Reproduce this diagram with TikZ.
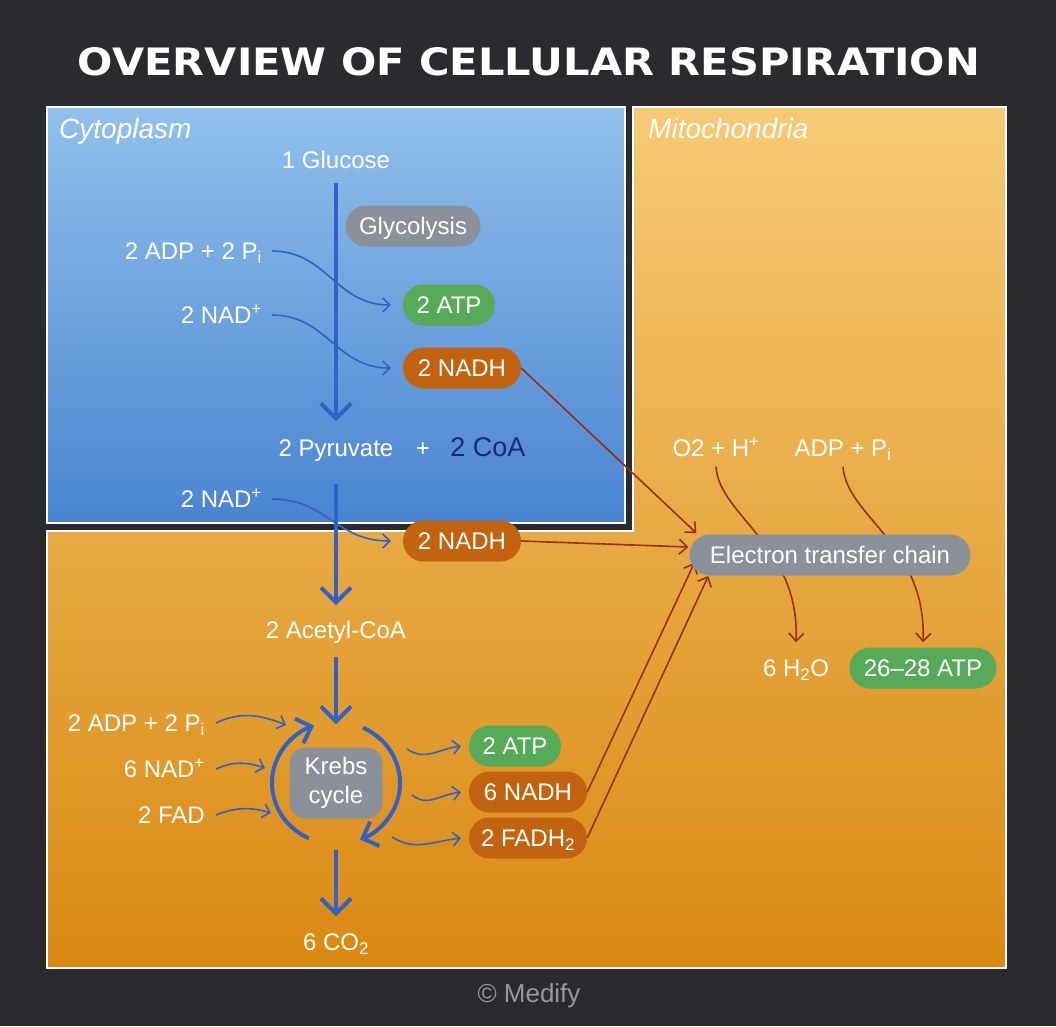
\documentclass[tikz,border=0pt]{standalone}
\usepackage{fontspec}
\setmainfont{Liberation Sans}
\newfontfamily\headFont{DejaVu Sans}
\usepackage{graphicx}
\usepackage{tikz}
\usetikzlibrary{
    positioning,
    arrows.meta,
    calc
}
\definecolor{darkBg}{RGB}{42, 43, 46}
\definecolor{cytoTop}{RGB}{145, 192, 235}
\definecolor{cytoBottom}{RGB}{74, 132, 209}
\definecolor{mitoTop}{RGB}{246, 202, 117}
\definecolor{mitoBottom}{RGB}{217, 137, 18}
\definecolor{pathBlue}{RGB}{50, 98, 198}
\definecolor{chainRed}{RGB}{155, 48, 12}
\definecolor{stepGray}{RGB}{139, 145, 155}
\definecolor{atpGreen}{RGB}{86, 170, 88}
\definecolor{nadhBrown}{RGB}{194, 99, 16}
\definecolor{coaNavy}{RGB}{25, 40, 120}
\definecolor{creditGray}{RGB}{150, 152, 156}

\pgfdeclarelayer{boxes}
\pgfdeclarelayer{links}
\pgfsetlayers{boxes,links,main}

\begin{document}
\begin{tikzpicture}[x=1pt, y=-1pt,
    txt/.style={text=white, inner sep=0pt, font=\fontsize{24}{28}\selectfont,
        text height=17pt, text depth=0pt},
    regionTxt/.style={text=white, inner sep=0pt, anchor=base west,
        font=\fontsize{28}{32}\selectfont\itshape},
    pill/.style={txt, rounded corners=20.5pt, minimum height=41pt},
    mainArrow/.style={pathBlue, line width=4pt,
        -{Straight Barb[length=15pt, width=30pt]}},
    sideArrow/.style={pathBlue, line width=1.6pt,
        -{Straight Barb[length=7pt, width=14pt]}},
    chainArrow/.style={chainRed, line width=1.6pt,
        -{Straight Barb[length=8pt, width=15pt]}}
]
    \useasboundingbox (0,0) rectangle (1056,1026);

    % Regions
    \begin{pgfonlayer}{boxes}
        \fill[darkBg] (0,0) rectangle (1056,1026);
        \shadedraw[top color=mitoTop, bottom color=mitoBottom, draw=white, line width=2pt]
            (47,531) -- (633,531) -- (633,107) -- (1006,107) -- (1006,968) -- (47,968) -- cycle;
        \shadedraw[top color=cytoTop, bottom color=cytoBottom, draw=white, line width=2pt]
            (47,107) rectangle (625,523);
    \end{pgfonlayer}

    \node[inner sep=0pt, text=white] (title) at (529,62)
        {\resizebox{902pt}{28pt}{\headFont\bfseries OVERVIEW OF CELLULAR RESPIRATION}};
    \node[regionTxt] (cyto) at (59,138) {Cytoplasm};
    \node[regionTxt] (mito) at (648,138) {Mitochondria};

    % Glycolysis
    \node[txt] (glucose) at (336,160) {1 Glucose};
    \node[pill, fill=stepGray, minimum width=135pt] (glyco) at (413,226) {Glycolysis};
    \node[txt, anchor=east] (adpA) at (262,251) {2 ADP + 2 P\textsubscript{i}};
    \node[txt, anchor=east] (nadA) at (262,315) {2 NAD\textsuperscript{+}};
    \node[pill, fill=atpGreen, minimum width=92pt] (atpA) at (449,305) {2 ATP};
    \node[pill, fill=nadhBrown, minimum width=118pt] (nadhA) at (462,368) {2 NADH};
    \node[txt] (pyruvate) at (336,448) {2 Pyruvate};
    \node[txt] (plus) at (423,448) {+};
    \node[txt, text=coaNavy, font=\fontsize{27}{30}\selectfont] (coa) at (488,448) {2 CoA};

    % Pyruvate oxidation
    \node[txt, anchor=east] (nadB) at (262,499) {2 NAD\textsuperscript{+}};
    \node[pill, fill=nadhBrown, minimum width=118pt] (nadhB) at (462,541) {2 NADH};
    \node[txt] (acetyl) at (336,630) {2 Acetyl-CoA};

    % Krebs cycle
    \node[text=white, inner sep=0pt, fill=stepGray, rounded corners=16pt, minimum width=93pt,
        minimum height=71pt, align=center, font=\fontsize{24}{29}\selectfont] (krebs) at (336,783) {Krebs\\cycle};
    \node[txt, anchor=east] (adpB) at (205,723) {2 ADP + 2 P\textsubscript{i}};
    \node[txt, anchor=east] (nadC) at (205,769) {6 NAD\textsuperscript{+}};
    \node[txt, anchor=east] (fad) at (205,815) {2 FAD};
    \node[pill, fill=atpGreen, minimum width=92pt] (atpB) at (515,746) {2 ATP};
    \node[pill, fill=nadhBrown, minimum width=118pt] (nadhC) at (528,792) {6 NADH};
    \node[pill, fill=nadhBrown, minimum width=118pt] (fadh) at (528,838) {2 FADH\textsubscript{2}};
    \node[txt] (co2) at (336,942) {6 CO\textsubscript{2}};
    \coordinate (inA) at (286,725);
    \coordinate (inB) at (265,768);
    \coordinate (inC) at (271,813);
    \coordinate (outA) at (407,749);
    \coordinate (outB) at (412,795);
    \coordinate (outC) at (392,837);

    % Electron transfer chain
    \node[txt] (oxygen) at (716,448) {O2 + H\textsuperscript{+}};
    \node[txt] (adpC) at (843,448) {ADP + P\textsubscript{i}};
    \node[pill, fill=stepGray, minimum width=281pt] (etc) at (830,555) {Electron transfer chain};
    \node[txt] (water) at (796,668) {6 H\textsubscript{2}O};
    \node[pill, fill=atpGreen, minimum width=147pt] (atpC) at (923,668) {26--28 ATP};

    \node[inner sep=0pt, text=creditGray, font=\fontsize{26}{30}\selectfont] (credit) at (529,996) {© Medify};

    % Main pathway
    \draw[mainArrow, shorten <=14pt, shorten >=18pt] (glucose.south) -- (pyruvate.north);
    \draw[mainArrow, shorten <=27pt, shorten >=16pt] (pyruvate.south) -- (acetyl.north);
    \draw[mainArrow, shorten <=18pt, shorten >=23pt] (acetyl.south) -- (krebs.north);
    \draw[mainArrow, shorten <=31pt, shorten >=17pt] (krebs.south) -- (co2.north);
    \draw[pathBlue, line width=4pt, -{Straight Barb[length=13pt, width=26pt]}]
        ($(krebs.center)+(115:64 and 61)$) arc[start angle=115, end angle=250, x radius=64, y radius=61];
    \draw[pathBlue, line width=4pt, -{Straight Barb[length=13pt, width=26pt]}]
        ($(krebs.center)+(-65:64 and 61)$) arc[start angle=-65, end angle=68, x radius=64, y radius=61];

    % Side inputs and outputs
    \draw[sideArrow] ([xshift=10pt]adpA.east) .. controls +(55,0) and +(-55,0) .. ([xshift=-12pt]atpA.west);
    \draw[sideArrow] ([xshift=10pt]nadA.east) .. controls +(55,0) and +(-55,0) .. ([xshift=-12pt]nadhA.west);
    \draw[sideArrow] ([xshift=10pt]nadB.east) .. controls +(55,0) and +(-55,0) .. ([xshift=-12pt]nadhB.west);
    \draw[sideArrow] ([xshift=11pt]adpB.east) .. controls +(25,-12) and +(-25,-10) .. (inA);
    \draw[sideArrow] ([xshift=11pt]nadC.east) .. controls +(18,-8) and +(-18,-6) .. (inB);
    \draw[sideArrow] ([xshift=11pt]fad.east) .. controls +(20,-8) and +(-20,-6) .. (inC);
    \draw[sideArrow] (outA) .. controls +(18,12) and +(-25,4) .. ([xshift=-8pt]atpB.west);
    \draw[sideArrow] (outB) .. controls +(16,12) and +(-25,4) .. ([xshift=-8pt]nadhC.west);
    \draw[sideArrow] (outC) .. controls +(22,14) and +(-30,4) .. ([xshift=-8pt]fadh.west);

    % Links to the chain
    \begin{pgfonlayer}{links}
        \draw[chainArrow] (nadhA.east) -- ($(etc.west)+(7,-22)$);
        \draw[chainArrow] (nadhB.east) -- ($(etc.west)+(-1,-8)$);
        \draw[chainArrow] (nadhC.east) -- ($(etc.west)+(5,8)$);
        \draw[chainArrow] (fadh.east) -- ($(etc.west)+(19,21)$);
        \draw[chainArrow] ([yshift=-10pt]oxygen.south) .. controls +(3,49) and +(4,-97) .. ([yshift=17pt]water.north);
        \draw[chainArrow] ([yshift=-10pt]adpC.south) .. controls +(3,49) and +(4,-97) .. ([yshift=5pt]atpC.north);
    \end{pgfonlayer}
\end{tikzpicture}
\end{document}
